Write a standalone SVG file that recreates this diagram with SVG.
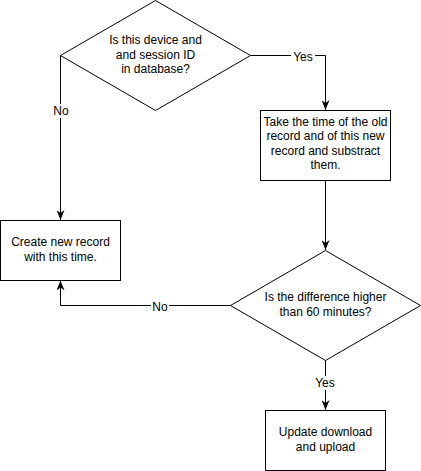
<svg xmlns="http://www.w3.org/2000/svg" width="421" height="471" viewBox="0 0 421 471">
<style>
.shape{fill:#fff;stroke:#000;stroke-width:1}
.edge{fill:none;stroke:#000;stroke-width:1}
text{font-family:"Liberation Sans",Arial,sans-serif;font-size:12px;fill:#000;text-anchor:middle}
.lbg{fill:#fff}
</style>
<defs>
<marker id="arr" viewBox="0 0 10 8" refX="10" refY="4" markerWidth="10" markerHeight="8" markerUnits="userSpaceOnUse" orient="auto">
<path d="M0,0 L10,4 L0,8 L3,4 z" fill="#000"/>
</marker>
</defs>
<rect width="421" height="471" fill="#fff"/>
<g id="connectors">
<path class="edge" d="M250.5,55.5 H325.5 V110" marker-end="url(#arr)"/>
<path class="edge" d="M60.5,55.5 V220" marker-end="url(#arr)"/>
<path class="edge" d="M325.5,180.5 V250" marker-end="url(#arr)"/>
<path class="edge" d="M231,305.5 H60.5 V280.5" marker-end="url(#arr)"/>
<path class="edge" d="M325.5,360 V410" marker-end="url(#arr)"/>
<rect class="lbg" x="291" y="50" width="24" height="13"/>
<text x="303" y="61">Yes</text>
<rect class="lbg" x="52" y="104" width="18" height="14"/>
<text x="61" y="115">No</text>
<rect class="lbg" x="151" y="300" width="18" height="13"/>
<text x="160" y="311">No</text>
<rect class="lbg" x="313" y="376" width="24" height="14"/>
<text x="325" y="387">Yes</text>
</g>
<g id="decision1">
<polygon class="shape" points="155.5,0.5 250.5,55.5 155.5,110.5 60.5,55.5"/>
<text x="155.5" y="44">Is this device and</text>
<text x="155.5" y="58.5">and session ID</text>
<text x="155.5" y="73">in database?</text>
</g>
<g id="subtract">
<rect class="shape" x="260.5" y="110.5" width="130" height="70"/>
<text x="325.5" y="125.5">Take the time of the old</text>
<text x="325.5" y="140">record and of this new</text>
<text x="325.5" y="154.5">record and substract</text>
<text x="325.5" y="169">them.</text>
</g>
<g id="create">
<rect class="shape" x="0.5" y="220.5" width="120" height="60"/>
<text x="60.5" y="246">Create new record</text>
<text x="60.5" y="260.5">with this time.</text>
</g>
<g id="decision2">
<polygon class="shape" points="325.5,250.5 420.5,305.5 325.5,360.5 230.5,305.5"/>
<text x="325.5" y="301">Is the difference higher</text>
<text x="325.5" y="315.5">than 60 minutes?</text>
</g>
<g id="update">
<rect class="shape" x="265.5" y="410.5" width="120" height="60"/>
<text x="325.5" y="436">Update download</text>
<text x="325.5" y="450.5">and upload</text>
</g>
</svg>
